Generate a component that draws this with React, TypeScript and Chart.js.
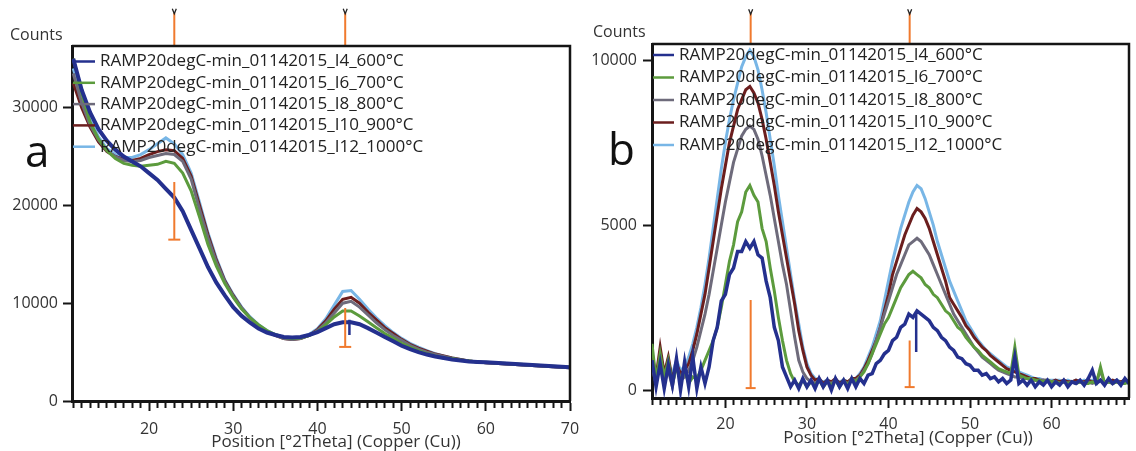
import React, { useEffect, useRef } from 'react';
import { Chart, registerables } from 'chart.js';

Chart.register(...registerables);

const FONT = '"Open Sans", "DejaVu Sans", sans-serif';

// ---- Legend labels & colours ----
const SERIES_LABELS = [
  'RAMP20degC-min_01142015_I4_600°C',
  'RAMP20degC-min_01142015_I6_700°C',
  'RAMP20degC-min_01142015_I8_800°C',
  'RAMP20degC-min_01142015_I10_900°C',
  'RAMP20degC-min_01142015_I12_1000°C',
];
const SERIES_COLORS = ['#24308e', '#5c9b3d', '#6e6b7b', '#6b1e1e', '#78b6e6'];
const ORANGE = '#f07a2e';
const X_TITLE = 'Position [°2Theta] (Copper (Cu))';

// ---- Panel a: positions 11..70 step 1 ----
const A_START = 11;
const A_STEP = 1;
const a600 = [
  35000, 31800, 29500, 27800, 26600, 25700, 25000, 24500, 24000, 23300,
  22600, 21700, 20800, 19400, 17500, 15600, 13700, 12100, 10800, 9600,
  8700, 8000, 7400, 7000, 6750, 6550, 6500, 6550, 6750, 7050,
  7450, 7850, 8050, 8050, 7850, 7450, 7000, 6550, 6100, 5650,
  5300, 5000, 4750, 4550, 4400, 4250, 4150, 4050, 4000, 3950,
  3900, 3850, 3800, 3750, 3700, 3650, 3600, 3550, 3500, 3450,
];
const a700 = [
  35000, 31500, 28500, 26800, 25600, 24800, 24300, 24100, 24000, 24100,
  24200, 24500, 24300, 23300, 21500, 18800, 16000, 13800, 12000, 10600,
  9400, 8500, 7800, 7200, 6800, 6500, 6400, 6450, 6700, 7100,
  7800, 8600, 9200, 9200, 8700, 8100, 7500, 6900, 6400, 5900,
  5500, 5150, 4850, 4600, 4400, 4350, 4200, 4100, 4000, 3950,
  3900, 3850, 3800, 3750, 3700, 3650, 3600, 3550, 3500, 3450,
];
const a800 = [
  33500, 30500, 28200, 26700, 25600, 25000, 24600, 24500, 24600, 24900,
  25100, 25300, 25200, 24500, 22700, 19600, 16700, 14200, 12200, 10700,
  9500, 8500, 7700, 7100, 6700, 6400, 6300, 6400, 6700, 7200,
  8000, 9000, 10000, 10200, 9600, 8800, 8000, 7300, 6700, 6200,
  5700, 5300, 5000, 4750, 4550, 4350, 4200, 4100, 4000, 3900,
  3850, 3800, 3750, 3700, 3650, 3600, 3550, 3500, 3450, 3400,
];
const a900 = [
  32500, 30000, 28000, 26500, 25500, 25000, 24700, 24600, 24800, 25200,
  25500, 25700, 25600, 24800, 23000, 20000, 17000, 14400, 12300, 10800,
  9500, 8500, 7700, 7100, 6700, 6400, 6300, 6400, 6700, 7300,
  8200, 9400, 10400, 10600, 10000, 9100, 8300, 7500, 6900, 6300,
  5800, 5400, 5100, 4800, 4600, 4400, 4250, 4100, 4000, 3900,
  3850, 3800, 3750, 3700, 3650, 3600, 3550, 3500, 3450, 3400,
];
const a1000 = [
  34000, 31000, 28800, 27000, 25800, 25200, 24900, 24900, 25200, 25700,
  26300, 26900, 26300, 25200, 23300, 20300, 17200, 14600, 12400, 10900,
  9600, 8600, 7800, 7200, 6800, 6500, 6400, 6500, 6800, 7400,
  8400, 9800, 11200, 11300, 10400, 9400, 8500, 7700, 7000, 6400,
  5900, 5500, 5150, 4850, 4600, 4400, 4250, 4100, 4000, 3900,
  3850, 3800, 3750, 3700, 3650, 3600, 3550, 3500, 3450, 3400,
];
const A_X_MIN = 10.85;
const A_X_MAX = 70;
const A_Y_MIN = 0;
const A_Y_MAX = 36300;
const A_Y_TICKS = [0, 10000, 20000, 30000];
const A_REF_X = [23.0, 43.3];
const A_REF_TOP = [22400, 9500];
const A_REF_BOTTOM = [16500, 5530];
const A_TICK_RANGE = [36300, 39700];
const A_BLUE_X = 43.8;
const A_BLUE_RANGE = [8300, 6760];

// ---- Panel b: positions 11..69.5 step 0.5 ----
const B_START = 11;
const B_STEP = 0.5;
const b600 = [
  900, 100, 800, 50, 750, 150, 950, 0, 850, 100,
  1000, 50, 700, 200, 700, 1500, 1900, 2700, 2900, 3500,
  3700, 4200, 4200, 4500, 4300, 4500, 4100, 4000, 3300, 2800,
  1900, 1500, 700, 400, 100, 300, 50, 350, 100, 300,
  50, 350, 100, 300, 0, 350, 100, 300, 50, 350,
  100, 350, 200, 450, 500, 800, 900, 1100, 1200, 1500,
  1600, 1900, 2000, 2300, 2200, 2400, 2300, 2200, 2100, 1900,
  1800, 1600, 1500, 1300, 1200, 1000, 950, 800, 750, 600,
  600, 450, 500, 350, 400, 250, 350, 200, 300, 1000,
  200, 300, 150, 300, 100, 250, 150, 300, 100, 250,
  150, 300, 100, 250, 200, 300, 150, 350, 600, 200,
  300, 150, 350, 200, 300, 150, 350, 200,
];
const b700 = [
  1400, 300, 1100, 400, 900, 200, 700, 300, 600, 200,
  400, 350, 600, 900, 1200, 1500, 1900, 2500, 3200, 3900,
  4400, 5100, 5400, 6000, 6200, 5900, 5700, 4900, 4500, 3700,
  3000, 2200, 1500, 900, 500, 250, 150, 300, 100, 250,
  150, 300, 100, 250, 150, 300, 100, 300, 150, 350,
  250, 400, 550, 800, 1100, 1400, 1700, 2000, 2200, 2500,
  2800, 3100, 3300, 3500, 3600, 3500, 3400, 3200, 3100, 2900,
  2800, 2600, 2400, 2300, 2100, 1900, 1800, 1600, 1450, 1300,
  1200, 1050, 950, 850, 750, 650, 600, 550, 500, 1300,
  450, 400, 350, 350, 300, 300, 250, 300, 250, 250,
  200, 250, 200, 250, 200, 250, 200, 200, 250, 200,
  700, 200, 250, 200, 250, 200, 200, 250,
];
const b800 = [
  700, 200, 900, 300, 600, 100, 800, 300, 400, 600,
  900, 1300, 1800, 2300, 2900, 3600, 4300, 5000, 5700, 6300,
  6900, 7300, 7700, 7900, 8000, 7900, 7600, 7100, 6500, 5900,
  5200, 4500, 3800, 3200, 2400, 1600, 900, 550, 350, 250,
  200, 300, 150, 250, 200, 300, 150, 250, 200, 300,
  300, 400, 600, 800, 1100, 1500, 1900, 2300, 2700, 3100,
  3500, 3800, 4100, 4400, 4500, 4600, 4500, 4300, 4100, 3800,
  3500, 3200, 2900, 2600, 2300, 2100, 1900, 1700, 1500, 1300,
  1150, 1000, 900, 800, 700, 600, 550, 500, 450, 400,
  400, 350, 350, 300, 300, 250, 300, 250, 250, 250,
  200, 250, 200, 250, 200, 250, 200, 250, 200, 250,
  600, 200, 250, 200, 250, 200, 250, 200,
];
const b900 = [
  1100, 400, 1300, 500, 1000, 300, 800, 500, 600, 800,
  1200, 1700, 2300, 2900, 3700, 4500, 5300, 6100, 6800, 7500,
  8000, 8500, 8800, 9100, 9200, 9000, 8700, 8200, 7600, 6900,
  6200, 5400, 4700, 4000, 3300, 2600, 1800, 1200, 700, 450,
  300, 350, 200, 300, 250, 350, 200, 300, 250, 350,
  350, 450, 650, 900, 1200, 1500, 1900, 2400, 2900, 3500,
  3900, 4300, 4700, 5000, 5300, 5500, 5400, 5200, 4900, 4500,
  4100, 3700, 3300, 2800, 2600, 2400, 2200, 1950, 1800, 1600,
  1450, 1300, 1200, 1050, 950, 850, 750, 650, 600, 550,
  500, 450, 400, 350, 350, 300, 300, 300, 250, 300,
  250, 300, 250, 250, 300, 250, 250, 300, 250, 250,
  300, 250, 250, 300, 250, 250, 300, 250,
];
const b1000 = [
  900, 300, 1000, 400, 800, 500, 900, 600, 700, 1000,
  1400, 1900, 2500, 3200, 4000, 4900, 5800, 6700, 7500, 8200,
  8800, 9300, 9800, 10100, 10300, 10100, 9700, 9100, 8400, 7600,
  6800, 5900, 5100, 4300, 3500, 2700, 2000, 1300, 800, 500,
  350, 300, 250, 300, 250, 300, 250, 300, 250, 300,
  350, 500, 700, 1000, 1300, 1700, 2100, 2700, 3300, 3900,
  4400, 4900, 5300, 5700, 6000, 6200, 6100, 5800, 5400, 5000,
  4500, 4100, 3700, 3300, 3000, 2700, 2400, 2100, 1900, 1700,
  1500, 1350, 1200, 1100, 1000, 900, 800, 700, 650, 600,
  550, 500, 450, 400, 350, 350, 300, 300, 300, 300,
  300, 250, 300, 250, 300, 250, 300, 250, 300, 250,
  300, 250, 300, 250, 300, 250, 300, 250,
];
const B_X_MIN = 11.0;
const B_X_MAX = 69.5;
const B_Y_MIN = -240;
const B_Y_MAX = 10485;
const B_Y_TICKS = [0, 5000, 10000];
const B_REF_X = [23.1, 42.6];
const B_REF_TOP = [2730, 1500];
const B_REF_BOTTOM = [60, 90];
const B_TICK_RANGE = [10485, 11420];
const B_BLUE_X = 43.4;
const B_BLUE_RANGE = [2330, 1150];

type Deco = {
  letter: string; letterX: number; letterY: number;
  countsX: number; countsY: number;
  titleX: number; titleY: number;
  legendTop: number; legendDY: number; lineLen: number; textOff: number;
  refX: number[]; tickTop: number;
};

const decoPlugin = {
  id: 'deco',
  afterDraw(chart: any, _args: any, o: Deco) {
    const { ctx, chartArea: ca } = chart;
    ctx.save();
    // frame top + right
    ctx.strokeStyle = '#151515';
    ctx.lineWidth = 2.5;
    ctx.beginPath();
    ctx.moveTo(ca.left, ca.top);
    ctx.lineTo(ca.right, ca.top);
    ctx.lineTo(ca.right, ca.bottom);
    ctx.stroke();
    // small markers on top of the reference ticks
    ctx.strokeStyle = '#222';
    ctx.lineWidth = 1.3;
    o.refX.forEach((rx) => {
      const px = chart.scales.x.getPixelForValue(rx);
      const py = chart.scales.y.getPixelForValue(o.tickTop);
      ctx.beginPath();
      ctx.moveTo(px - 2, py - 4);
      ctx.lineTo(px, py + 1);
      ctx.lineTo(px + 2, py - 4);
      ctx.stroke();
    });
    // legend inside plot
    ctx.font = `17px ${FONT}`;
    ctx.textBaseline = 'middle';
    ctx.textAlign = 'left';
    SERIES_LABELS.forEach((lab, i) => {
      const y = ca.top + o.legendTop + i * o.legendDY;
      ctx.strokeStyle = SERIES_COLORS[i];
      ctx.lineWidth = 2.5;
      ctx.beginPath();
      ctx.moveTo(ca.left + 1, y);
      ctx.lineTo(ca.left + o.lineLen, y);
      ctx.stroke();
      ctx.fillStyle = '#222';
      ctx.fillText(lab, ca.left + o.textOff, y);
    });
    // "Counts"
    ctx.font = `16px ${FONT}`;
    ctx.fillStyle = '#333';
    ctx.fillText('Counts', o.countsX, o.countsY);
    // x title
    ctx.font = `17px ${FONT}`;
    ctx.textAlign = 'center';
    ctx.fillText(X_TITLE, o.titleX, o.titleY);
    // panel letter
    ctx.font = `44px ${FONT}`;
    ctx.textAlign = 'left';
    ctx.textBaseline = 'alphabetic';
    ctx.fillStyle = '#111';
    ctx.fillText(o.letter, o.letterX, o.letterY);
    ctx.restore();
  },
};

function toPoints(values: number[], start: number, step: number) {
  return values.map((y, i) => ({ x: start + i * step, y }));
}

function markerSets(refX: number[], refTop: number[], refBottom: number[], capR: number,
  tickRange: number[], blueX: number, blueRange: number[]) {
  const ds: any[] = [];
  refX.forEach((x, i) => {
    ds.push({
      label: '', data: [{ x, y: refTop[i] }, { x, y: refBottom[i] }],
      borderColor: ORANGE, borderWidth: 2, pointRadius: [0, capR], pointStyle: 'line',
      pointBorderColor: ORANGE, pointBorderWidth: 2, order: -1,
    });
    ds.push({
      label: '', data: [{ x, y: tickRange[0] }, { x, y: tickRange[1] }],
      borderColor: ORANGE, borderWidth: 2, pointRadius: 0, clip: false, order: -1,
    });
  });
  ds.push({
    label: '', data: [{ x: blueX, y: blueRange[0] }, { x: blueX, y: blueRange[1] }],
    borderColor: SERIES_COLORS[0], borderWidth: 2.5, pointRadius: 0, order: -1,
  });
  return ds;
}

function makeConfig(p: any) {
  const series = p.series.map((vals: number[], i: number) => ({
    label: SERIES_LABELS[i],
    data: toPoints(vals, p.start, p.step),
    borderColor: SERIES_COLORS[i],
    backgroundColor: SERIES_COLORS[i],
    borderWidth: p.lineWidths[i],
    pointRadius: 0,
    tension: 0,
    order: 0,
  }));
  return {
    type: 'line',
    data: { datasets: [...p.markers, ...series] },
    plugins: [decoPlugin],
    options: {
      responsive: false,
      animation: false,
      events: [],
      layout: { padding: p.padding },
      plugins: {
        legend: { display: false },
        tooltip: { enabled: false },
        deco: p.deco,
      },
      scales: {
        x: {
          type: 'linear', min: p.xMin, max: p.xMax,
          afterFit: (s: any) => { s.height = p.xHeight; },
          border: { display: true, color: '#151515', width: 3 },
          grid: {
            drawOnChartArea: false, drawTicks: true, tickLength: 10, tickWidth: 2,
            color: '#151515', tickColor: '#151515',
            tickBorderDash: (c: any) => (c.tick && c.tick.value % 10 === 0 ? [] : [5, 100]),
          },
          ticks: {
            stepSize: 1, autoSkip: false, includeBounds: false, maxRotation: 0, minRotation: 0,
            padding: p.xPad, color: '#333', font: { family: FONT, size: 16 },
            callback: (v: number) => (v % 10 === 0 ? String(v) : ''),
          },
        },
        y: {
          type: 'linear', min: p.yMin, max: p.yMax,
          afterFit: (s: any) => { s.width = p.yWidth; },
          afterBuildTicks: (s: any) => { s.ticks = p.yTicks.map((v: number) => ({ value: v })); },
          border: { display: true, color: '#151515', width: 3 },
          grid: { drawOnChartArea: false, drawTicks: true, tickLength: 9, tickWidth: 2, color: '#151515', tickColor: '#151515' },
          ticks: {
            padding: p.yPad, color: '#333',
            font: { family: FONT, size: 16 },
            callback: (v: number) => String(v),
          },
        },
      },
    },
  } as any;
}

export default function App() {
  const refA = useRef<HTMLCanvasElement>(null);
  const refB = useRef<HTMLCanvasElement>(null);

  useEffect(() => {
    const cfgA = makeConfig({
      series: [a600, a700, a800, a900, a1000], start: A_START, step: A_STEP,
      lineWidths: [4, 3, 3, 3, 3],
      markers: markerSets(A_REF_X, A_REF_TOP, A_REF_BOTTOM, 6, A_TICK_RANGE, A_BLUE_X, A_BLUE_RANGE),
      padding: { left: 0, right: 20, top: 46, bottom: 0 },
      xMin: A_X_MIN, xMax: A_X_MAX, yMin: A_Y_MIN, yMax: A_Y_MAX, yTicks: A_Y_TICKS,
      xHeight: 50, yWidth: 72, yPad: 5, xPad: 9,
      deco: { letter: 'a', letterX: 25, letterY: 167, countsX: 10, countsY: 35,
        titleX: 336, titleY: 442, legendTop: 15.5, legendDY: 21.3, lineLen: 23, textOff: 28,
        refX: A_REF_X, tickTop: A_TICK_RANGE[1] },
    });
    const cfgB = makeConfig({
      series: [b600, b700, b800, b900, b1000], start: B_START, step: B_STEP,
      lineWidths: [3.5, 3, 3, 3, 3],
      markers: markerSets(B_REF_X, B_REF_TOP, B_REF_BOTTOM, 5, B_TICK_RANGE, B_BLUE_X, B_BLUE_RANGE),
      padding: { left: 0, right: 3, top: 44, bottom: 0 },
      xMin: B_X_MIN, xMax: B_X_MAX, yMin: B_Y_MIN, yMax: B_Y_MAX, yTicks: B_Y_TICKS,
      xHeight: 53, yWidth: 62, yPad: 6, xPad: 7,
      deco: { letter: 'b', letterX: 18, letterY: 165, countsX: 3, countsY: 32,
        titleX: 318, titleY: 438, legendTop: 11, legendDY: 22.5, lineLen: 22, textOff: 27,
        refX: B_REF_X, tickTop: B_TICK_RANGE[1] },
    });
    const ca = new Chart(refA.current as HTMLCanvasElement, cfgA);
    const cb = new Chart(refB.current as HTMLCanvasElement, cfgB);
    return () => { ca.destroy(); cb.destroy(); };
  }, []);

  return (
    <div style={{ position: 'absolute', left: 0, top: 0, width: 1136, height: 451, background: '#fff', overflow: 'hidden' }}>
      <canvas ref={refA} width={590} height={451} style={{ position: 'absolute', left: 0, top: 0, width: 590, height: 451 }} />
      <canvas ref={refB} width={546} height={451} style={{ position: 'absolute', left: 590, top: 0, width: 546, height: 451 }} />
    </div>
  );
}
